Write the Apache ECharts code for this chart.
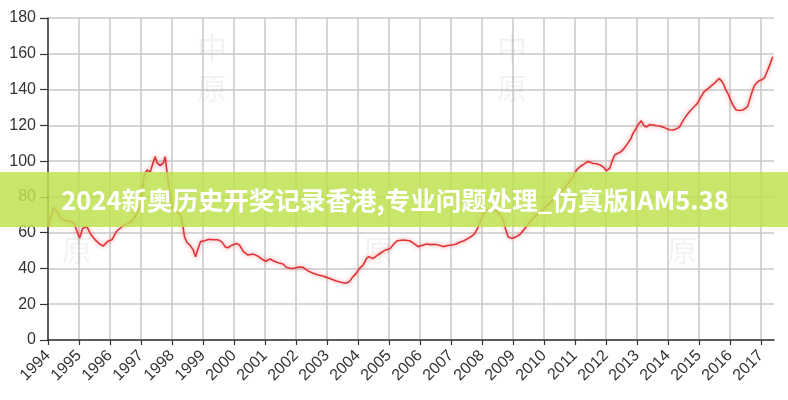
<!DOCTYPE html>
<html><head><meta charset="utf-8">
<script src="https://cdn.jsdelivr.net/npm/echarts@6/dist/echarts.min.js"></script>
<style>html,body{margin:0;padding:0;background:#fff}#c{width:788px;height:400px}</style>
</head><body><div id="c"></div>
<script>
const yearTicks = [1994,1995,1996,1997,1998,1999,2000,2001,2002,2003,2004,2005,2006,2007,2008,2009,2010,2011,2012,2013,2014,2015,2016,2017];
const yTicks = [0,20,40,60,80,100,120,140,160,180];
const titleText = '2024新奥历史开奖记录香港,专业问题处理_仿真版IAM5.38';
const watermarkText = '中\n原';

const dates = [
1994.00,1994.08,1994.18,1994.30,1994.42,1994.55,1994.70,1994.85,1994.95,
1995.02,1995.12,1995.25,1995.40,1995.55,1995.68,1995.78,1995.92,
1996.06,1996.20,1996.38,1996.55,1996.72,1996.85,1996.95,
1997.02,1997.10,1997.19,1997.30,1997.40,1997.46,1997.52,1997.62,1997.72,1997.78,1997.83,1997.89,1997.95,
1998.02,1998.15,1998.26,1998.33,1998.40,1998.48,1998.58,1998.68,1998.76,1998.84,1998.92,
1999.05,1999.20,1999.33,1999.48,1999.60,1999.72,1999.80,1999.93,
2000.08,2000.18,2000.30,2000.45,2000.62,2000.78,2000.92,
2001.02,2001.16,2001.30,2001.45,2001.58,2001.70,2001.85,2001.97,
2002.10,2002.23,2002.40,2002.55,2002.70,2002.85,
2003.00,2003.15,2003.30,2003.45,2003.60,2003.72,2003.82,2003.92,
2004.05,2004.17,2004.27,2004.35,2004.49,2004.60,2004.72,2004.85,
2005.03,2005.15,2005.26,2005.46,2005.67,2005.80,2005.94,
2006.08,2006.21,2006.35,2006.48,2006.62,2006.75,2006.90,
2007.02,2007.15,2007.28,2007.42,2007.55,2007.67,2007.77,2007.86,2007.95,
2008.05,2008.15,2008.30,2008.45,2008.55,2008.68,2008.76,2008.84,2008.95,
2009.08,2009.22,2009.32,2009.43,2009.54,2009.64,2009.80,2009.97,
2010.12,2010.29,2010.45,2010.61,2010.78,2010.94,
2011.05,2011.17,2011.30,2011.40,2011.50,2011.59,2011.70,2011.81,2011.93,
2012.01,2012.12,2012.20,2012.28,2012.40,2012.49,2012.60,2012.70,2012.80,2012.87,2012.95,
2013.03,2013.14,2013.22,2013.30,2013.42,2013.52,2013.63,2013.73,2013.84,2013.94,
2014.05,2014.16,2014.27,2014.37,2014.45,2014.53,2014.64,2014.74,2014.85,2014.95,
2015.05,2015.15,2015.25,2015.34,2015.42,2015.50,2015.58,2015.66,2015.72,2015.78,2015.85,2015.93,
2016.01,2016.09,2016.20,2016.30,2016.41,2016.50,2016.57,2016.63,2016.68,2016.74,2016.79,2016.88,2016.95,
2017.03,2017.11,2017.17,2017.22,2017.30,2017.38
];
const values = [
63,68,74,71.5,68,66.5,66.5,65,60,
57,62.5,63.5,58.5,55.5,53.5,52.5,55,
56,60.5,63.3,65,66.5,70,74,
80,92,95,94,99.7,102.5,99,97.5,99,102.5,95,87.7,80,
73,71.7,70.5,66,58,54.5,53,50.5,46.5,51,55,
55.5,56.3,56,56,55,52,51.5,53,
54,53,49.5,47.5,48,46.8,45,
44,45.3,44,43,42.5,40.5,40,40.2,
40.8,40.6,38.5,37.3,36.5,35.8,
35,34,33,32.3,31.7,32.5,35,36.8,
40,42,45.5,46.6,45.6,47,48.5,50,
51,53.5,55.5,55.9,55.5,54,52.2,
53,53.7,53.3,53.5,53,52.2,52.8,
53.1,53.5,54.6,55.5,56.8,58,59.6,62.5,66.5,
71,72.7,72.7,72.5,70.5,67.5,62,57.7,56.8,
57.5,59,61,63.3,66,68,70.5,72.7,
75.5,78.3,81,84,87.5,91.3,
95,97,98.5,99.7,99.3,98.7,98.5,97.8,96.5,
94.6,96,100,103.4,104.5,105.3,107.5,109.9,112.5,115.5,117.5,
120.2,122.5,120,119,120.5,120.2,119.8,119.6,119,118.3,
117.5,117.4,118,119,121.5,123.9,126.5,128.6,130.5,132.3,
135.5,138.5,140,141.2,142.5,143.5,145,146.2,145.8,143.5,140.5,137.9,
134.5,131.4,128.6,128.3,128.6,129.5,130.6,134,137,140,142.3,144,145,
145.5,146.5,149,151,154.5,158.3
];

const chart = echarts.init(document.getElementById('c'), null, {renderer: 'canvas'});
const seriesData = dates.map((d, i) => [d, values[i]]);
const wm = (x, y) => ({
  type: 'text', x: x, y: y, z: 1, silent: true,
  style: { text: watermarkText, fill: 'rgba(0,0,0,0.05)', font: '30px "Noto Sans CJK SC"', lineHeight: 40, align: 'center', verticalAlign: 'middle' }
});
chart.setOption({
  animation: false,
  grid: { left: 48, right: 14, top: 18, bottom: 60, show: false },
  xAxis: {
    type: 'value', min: 1994, max: 2017.42, interval: 1,
    axisLine: { lineStyle: { color: '#333', width: 1.5 } },
    axisTick: { length: 5, lineStyle: { color: '#333', width: 1.2 }, customValues: yearTicks },
    axisLabel: { rotate: 45, fontSize: 16, color: '#333', fontFamily: 'Liberation Sans', margin: 13,
      customValues: yearTicks, formatter: v => String(v) },
    splitLine: { show: true, lineStyle: { color: '#c8c8c8', width: 1.5 } }
  },
  yAxis: {
    type: 'value', min: 0, max: 180, interval: 20,
    axisLine: { show: true, lineStyle: { color: '#333', width: 1.5 } },
    axisTick: { show: true, length: 8, lineStyle: { color: '#333', width: 1.2 }, customValues: yTicks },
    axisLabel: { fontSize: 16, color: '#333', fontFamily: 'Liberation Sans', margin: 12, customValues: yTicks },
    splitLine: { show: true, lineStyle: { color: '#c8c8c8', width: 1.5 } }
  },
  series: [{
    type: 'line', data: seriesData, showSymbol: false, z: 3,
    lineStyle: { color: '#e0363a', width: 1.6, shadowBlur: 4, shadowColor: 'rgba(235,90,90,0.7)' }
  }],
  graphic: [
    wm(212, 68), wm(512, 68), wm(77, 230), wm(378, 230), wm(682, 230),
    { type: 'rect', z: 100, silent: true, shape: { x: 0, y: 172, width: 788, height: 55 },
      style: { fill: 'rgba(190,226,79,0.85)' } },
    { type: 'text', z: 101, silent: true, x: 395, y: 200,
      style: { text: titleText, fill: '#ffffff', font: 'bold 25.5px "Noto Sans CJK SC"', align: 'center', verticalAlign: 'middle' } }
  ]
});
</script></body></html>
